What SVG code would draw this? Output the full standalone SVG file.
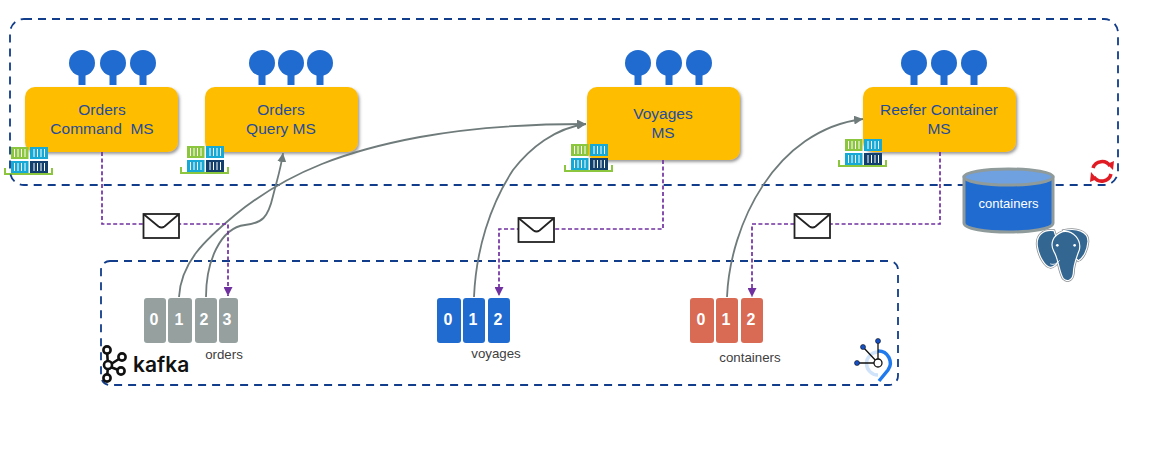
<svg xmlns="http://www.w3.org/2000/svg" xmlns:xlink="http://www.w3.org/1999/xlink" width="1152" height="459" viewBox="0 0 1152 459">
  <style>
    text { font-family: "Liberation Sans", Arial, sans-serif; }
    .ms { fill: #ffbd00; filter: url(#soft); }
    .ms-label { fill: #1f4c9c; font-size: 15.5px; text-anchor: middle; }
    .probe { fill: #1f6bd0; }
    .frame { fill: none; stroke: #123d8a; stroke-width: 1.8; stroke-dasharray: 8 6; }
    .flow { fill: none; stroke: #7030a0; stroke-width: 1.7; stroke-dasharray: 4 2.4; }
    .sub { fill: none; stroke: #6f7b7a; stroke-width: 1.8; }
    .mail { fill: #fff; stroke: #222; stroke-width: 1.8; }
    .part-num { fill: #fff; font-size: 16px; font-weight: bold; text-anchor: middle; }
    .topic { fill: #404040; font-size: 13.3px; text-anchor: middle; }
    .grey { fill: #95a09f; }
    .blue { fill: #1f6bd0; }
    .red { fill: #d96b54; }
    .stripe { stroke: #fff; stroke-width: 1; }
    .kf { fill: #fff; stroke: #111; stroke-width: 2.6; }
    .pg-edge { stroke: #8a8f92; stroke-width: 8; }
    .pg-rim { stroke: #fff; stroke-width: 3.5; fill: #336791; }
    .pg-line { fill: none; stroke: #fff; stroke-width: 2.6; stroke-linecap: round; }
  </style>
  <defs>
    <filter id="soft" x="-10%" y="-10%" width="125%" height="130%">
      <feDropShadow dx="1.5" dy="2" stdDeviation="1.6" flood-color="#555" flood-opacity="0.6"/>
    </filter>
    <marker id="arrow-flow" markerUnits="userSpaceOnUse" markerWidth="10" markerHeight="9" refX="9" refY="4.500" orient="auto">
      <path d="M0,0 L9,4.500 L0,9 Z" fill="#7030a0"/>
    </marker>
    <marker id="arrow-sub" markerUnits="userSpaceOnUse" markerWidth="10" markerHeight="9" refX="9" refY="4.500" orient="auto">
      <path d="M0,0 L9,4.500 L0,9 Z" fill="#6f7b7a"/>
    </marker>
    <!-- One lollipop endpoint: head and stem -->
    <g id="probe">
      <circle class="probe" cx="0" cy="0" r="13"/>
      <rect class="probe" x="-3.500" y="9" width="7" height="13"/>
    </g>
    <g id="box-stripes">
      <path class="stripe" d="M4,2V10M7.500,2V10M11,2V10M14.500,2V10"/>
    </g>
    <!-- Stack of four shipping containers on a green tray -->
    <g id="stack">
      <path d="M1,21 V27 H48 V21" fill="none" stroke="#8cc63f" stroke-width="2"/>
      <rect x="7" y="0" width="17.500" height="12" fill="#8cc63f"/>
      <use xlink:href="#box-stripes" href="#box-stripes" x="6.500"/>
      <rect x="26" y="0" width="18" height="12" fill="#17a9d6"/>
      <use xlink:href="#box-stripes" href="#box-stripes" x="26"/>
      <rect x="7" y="14" width="17.500" height="12" fill="#17a9d6"/>
      <use xlink:href="#box-stripes" href="#box-stripes" x="6.500" y="14"/>
      <rect x="26" y="14" width="18" height="12" fill="#123f6d"/>
      <use xlink:href="#box-stripes" href="#box-stripes" x="26" y="14"/>
    </g>
    <g id="envelope">
      <rect class="mail" x="0" y="0" width="35.500" height="24"/>
      <path d="M0.500,0.500 L15,12.500 Q18,14.500 21,12.500 L35,0.500" fill="none" stroke="#222" stroke-width="1.8"/>
    </g>
    <!-- Elephant silhouette: back, far ear, head and trunk -->
    <path id="pg-back" d="M372,272 C340,268 318,285 322,318 C326,348 345,382 362,382 C378,380 392,360 392,335 Z"/>
    <path id="pg-ear" d="M400,272 C440,262 475,275 474,305 C472,330 460,355 445,362 L420,340 Z"/>
    <path id="pg-head" d="M398,275 C370,285 358,310 372,335 C385,355 388,400 400,416 C412,428 428,420 430,400 C430,380 440,350 448,330 C455,300 430,270 398,275 Z"/>
  </defs>

  <!-- Microservices -->
  <g id="orders-command">
    <use xlink:href="#probe" href="#probe" x="82" y="63"/>
    <use xlink:href="#probe" href="#probe" x="113" y="63"/>
    <use xlink:href="#probe" href="#probe" x="143" y="63"/>
    <rect class="ms" x="25" y="87" width="153" height="65" rx="10"/>
    <text class="ms-label" x="102" y="115">Orders</text>
    <text class="ms-label" x="102" y="134" xml:space="preserve">Command  MS</text>
    <use xlink:href="#stack" href="#stack" x="4" y="147"/>
  </g>
  <g id="orders-query">
    <use xlink:href="#probe" href="#probe" x="262" y="63"/>
    <use xlink:href="#probe" href="#probe" x="291" y="63"/>
    <use xlink:href="#probe" href="#probe" x="320" y="63"/>
    <rect class="ms" x="205" y="87" width="153" height="65" rx="10"/>
    <text class="ms-label" x="281" y="115">Orders</text>
    <text class="ms-label" x="281" y="134">Query MS</text>
    <use xlink:href="#stack" href="#stack" x="180" y="146"/>
  </g>
  <g id="voyages">
    <use xlink:href="#probe" href="#probe" x="638" y="63"/>
    <use xlink:href="#probe" href="#probe" x="669" y="63"/>
    <use xlink:href="#probe" href="#probe" x="699" y="63"/>
    <rect class="ms" x="587" y="87" width="153" height="73" rx="10"/>
    <text class="ms-label" x="663" y="119">Voyages</text>
    <text class="ms-label" x="663" y="138">MS</text>
    <use xlink:href="#stack" href="#stack" x="564" y="144"/>
  </g>
  <g id="reefer-container">
    <use xlink:href="#probe" href="#probe" x="914" y="63"/>
    <use xlink:href="#probe" href="#probe" x="944" y="63"/>
    <use xlink:href="#probe" href="#probe" x="974" y="63"/>
    <rect class="ms" x="863" y="87" width="153" height="65" rx="10"/>
    <text class="ms-label" x="939" y="115">Reefer Container</text>
    <text class="ms-label" x="939" y="134">MS</text>
    <use xlink:href="#stack" href="#stack" x="838" y="139"/>
  </g>

  <!-- Platform boundaries -->
  <g id="boundaries">
    <rect class="frame" x="10" y="19" width="1108" height="166" rx="14"/>
    <rect class="frame" x="101" y="261" width="797" height="124" rx="9"/>
  </g>

  <!-- Subscriptions and event flows -->
  <g id="connectors">
    <path class="sub" marker-end="url(#arrow-sub)" d="M179,297 C181,262 205,240 235,215 C290,170 350,150 420,137 C480,126 540,124 586,124"/>
    <path class="sub" marker-end="url(#arrow-sub)" d="M206,297 C206,262 220,228 245,225 C262,223 268,218 273,196 C277,180 281,168 283,153"/>
    <path class="sub" marker-end="url(#arrow-sub)" d="M474,297 C476,250 490,205 513,170 C530,148 555,128 586,124"/>
    <path class="sub" marker-end="url(#arrow-sub)" d="M727,297 C730,225 775,130 863,119"/>
    <path class="flow" marker-end="url(#arrow-flow)" d="M102,152 V224 H228 V296"/>
    <path class="flow" marker-end="url(#arrow-flow)" d="M663,160 V229 H499 V296"/>
    <path class="flow" marker-end="url(#arrow-flow)" d="M940,152 V224 H752 V297"/>
    <use xlink:href="#envelope" href="#envelope" x="143.500" y="214"/>
    <use xlink:href="#envelope" href="#envelope" x="518.500" y="218"/>
    <use xlink:href="#envelope" href="#envelope" x="794.500" y="214"/>
  </g>

  <!-- Kafka topics -->
  <g id="topic-orders">
    <rect class="grey" x="144" y="298" width="22" height="45" rx="3"/>
    <rect class="grey" x="168" y="298" width="24" height="45" rx="3"/>
    <rect class="grey" x="195" y="298" width="22" height="45" rx="3"/>
    <rect class="grey" x="219" y="298" width="19" height="45" rx="3"/>
    <text class="part-num" x="154" y="325">0</text>
    <text class="part-num" x="179" y="325">1</text>
    <text class="part-num" x="204" y="325">2</text>
    <text class="part-num" x="227" y="325">3</text>
    <text class="topic" x="224" y="359">orders</text>
  </g>
  <g id="topic-voyages">
    <rect class="blue" x="437" y="298" width="24" height="45" rx="3"/>
    <rect class="blue" x="463" y="298" width="22" height="45" rx="3"/>
    <rect class="blue" x="488" y="298" width="22" height="45" rx="3"/>
    <text class="part-num" x="448" y="325">0</text>
    <text class="part-num" x="473" y="325">1</text>
    <text class="part-num" x="498" y="325">2</text>
    <text class="topic" x="496" y="358">voyages</text>
  </g>
  <g id="topic-containers">
    <rect class="red" x="690" y="298" width="24" height="45" rx="3"/>
    <rect class="red" x="716" y="298" width="22" height="45" rx="3"/>
    <rect class="red" x="741" y="298" width="22" height="45" rx="3"/>
    <text class="part-num" x="701" y="325">0</text>
    <text class="part-num" x="726" y="325">1</text>
    <text class="part-num" x="751" y="325">2</text>
    <text class="topic" x="750" y="362">containers</text>
  </g>

  <!-- Kafka wordmark -->
  <g id="kafka-logo">
    <path d="M107,350 L108,366 L107,378 M108,366 L122,357 M108,366 L121,371" fill="none" stroke="#111" stroke-width="2.600"/>
    <circle class="kf" cx="107" cy="350" r="3.600"/>
    <circle class="kf" cx="122" cy="357" r="3.600"/>
    <circle class="kf" cx="108" cy="365" r="4"/>
    <circle class="kf" cx="121" cy="371" r="3.600"/>
    <circle class="kf" cx="107" cy="378" r="3.600"/>
    <text x="133" y="372" font-size="21" font-weight="600" fill="#111" style="font-family: Inter, 'Liberation Sans', sans-serif">kafka</text>
  </g>

  <!-- Event streams mark -->
  <g id="streams-icon">
    <path d="M878,352 A11,11 0 0 0 878,375" fill="none" stroke="#cfe3fb" stroke-width="3.500"/>
    <path d="M878,351 A12,12 0 0 1 888,370 L879,381" fill="none" stroke="#1f7aee" stroke-width="3.500"/>
    <path d="M878,363 V341 M878,363 L863,347 M878,363 H857" fill="none" stroke="#111" stroke-width="1.300"/>
    <circle cx="878" cy="341" r="2.500" fill="#1450c8" stroke="#111" stroke-width="0.600"/>
    <circle cx="863" cy="347" r="2.500" fill="#1450c8" stroke="#111" stroke-width="0.600"/>
    <circle cx="857" cy="363" r="2.500" fill="#1450c8" stroke="#111" stroke-width="0.600"/>
    <circle cx="878" cy="363" r="4" fill="#fff" stroke="#111" stroke-width="1.300"/>
  </g>

  <!-- Refresh mark on the platform boundary -->
  <g id="sync-icon" fill="none" stroke="#e01b23" stroke-width="3.500">
    <path d="M1093,168 A9.500,9.500 0 0 1 1110,166"/>
    <path d="M1111,174 A9.500,9.500 0 0 1 1094,177"/>
    <path d="M1107,164 L1114,161 L1113,170 Z" fill="#e01b23" stroke="none"/>
    <path d="M1097,179 L1090,182 L1091,172 Z" fill="#e01b23" stroke="none"/>
  </g>

  <!-- Container database -->
  <g id="containers-db">
    <path d="M964,177 V223 C964,235 1053,235 1053,223 V177 Z" fill="#1f6bd0" stroke="#8f9a9a" stroke-width="3"/>
    <ellipse cx="1008.500" cy="177" rx="44.500" ry="8" fill="#6fa0df" stroke="#8f9a9a" stroke-width="3"/>
    <text x="1008.500" y="208" fill="#fff" font-size="13" text-anchor="middle">containers</text>
  </g>

  <!-- Database engine mascot -->
  <g id="postgres-logo" transform="translate(930 140) scale(0.3333)">
    <use xlink:href="#pg-back" href="#pg-back" class="pg-edge"/>
    <use xlink:href="#pg-ear" href="#pg-ear" class="pg-edge"/>
    <use xlink:href="#pg-head" href="#pg-head" class="pg-edge"/>
    <use xlink:href="#pg-back" href="#pg-back" class="pg-rim"/>
    <use xlink:href="#pg-ear" href="#pg-ear" class="pg-rim"/>
    <use xlink:href="#pg-head" href="#pg-head" class="pg-rim"/>
    <path class="pg-line" d="M362,372 C372,376 382,370 388,362 M442,360 C452,368 464,366 472,356"/>
    <circle cx="382" cy="316" r="4" fill="#fff"/>
    <circle cx="434" cy="316" r="4" fill="#fff"/>
  </g>
</svg>
